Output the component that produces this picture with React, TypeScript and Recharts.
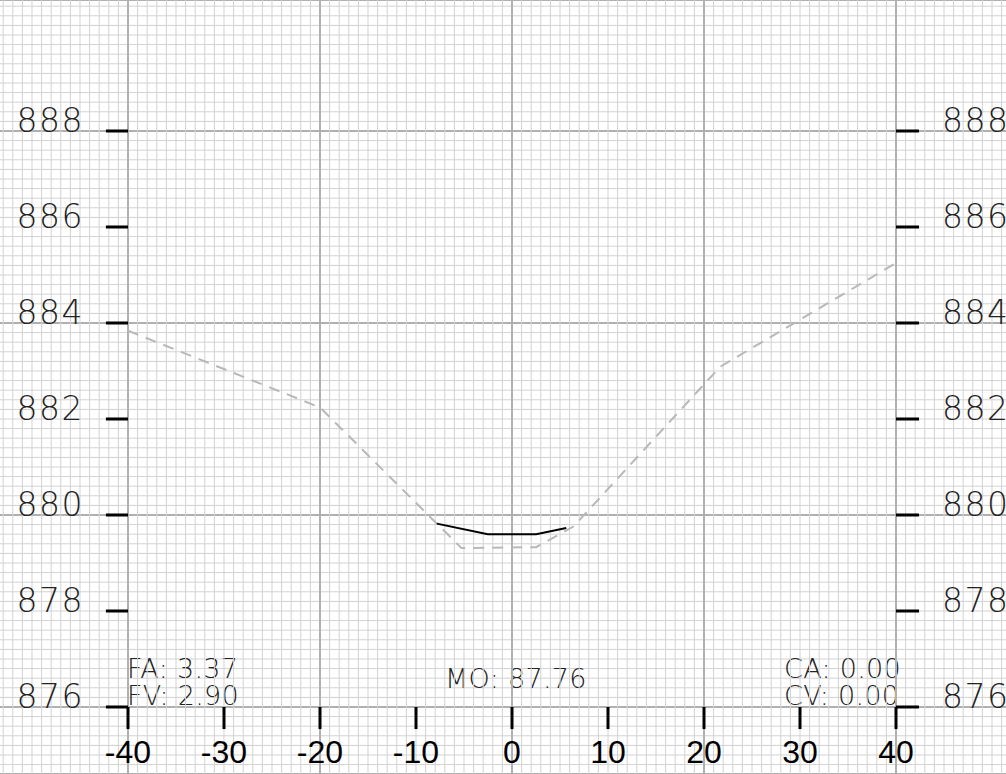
import { LineChart, Line, XAxis, YAxis, CartesianGrid, ReferenceLine } from 'recharts';

// existing ground (dashed) and design section (solid)
const groundX = [-40, -20, -5.26, 2.52, 6.4, 21.7, 40];
const groundY = [883.84, 882.24, 879.31, 879.33, 879.76, 883.09, 885.25];
const designX = [-7.83, -2.52, 2.52, 5.65];
const designY = [879.82, 879.6, 879.6, 879.73];

const xTicks = [-40, -30, -20, -10, 0, 10, 20, 30, 40];
const yTicks = [876, 878, 880, 882, 884, 886, 888];
const majorX = [-40, -20, 0, 20, 40];
const majorY = [876, 880, 884, 888];

const notesLeft = ['FA: 3.37', 'FV: 2.90'];
const noteMid = 'MO: 87.76';
const notesRight = ['CA: 0.00', 'CV: 0.00'];

const X_DOMAIN: [number, number] = [-53.3333, 51.4583];
const Y_DOMAIN: [number, number] = [874.604, 890.729];

const minorX = Array.from({ length: 105 }, (_, i) => -53 + i);
const minorY = Array.from({ length: 81 }, (_, i) => Math.round((874.6 + i * 0.2) * 10) / 10);

const ground = groundX.map((x, i) => ({ x, y: groundY[i] }));
const design = designX.map((x, i) => ({ x, y: designY[i] }));

const thin = { fontFamily: "'DejaVu Sans', sans-serif", fontWeight: 200, fill: '#222' };

const LeftLabel = (props: any) => {
  const { viewBox, text } = props;
  return (
    <text x={viewBox.x - 22} y={viewBox.y + 1} textAnchor="end" fontSize={33} letterSpacing={1.5} {...thin}>
      {text}
    </text>
  );
};

const RightLabel = (props: any) => {
  const { viewBox, text } = props;
  return (
    <text x={viewBox.x + viewBox.width + 23} y={viewBox.y + 1} textAnchor="start" fontSize={33} letterSpacing={1.5} {...thin}>
      {text}
    </text>
  );
};

const BottomLabel = (props: any) => {
  const { viewBox, text } = props;
  return (
    <text x={viewBox.x} y={viewBox.y + viewBox.height + 34} textAnchor="middle" fontSize={32}
      fontFamily="'Liberation Sans', Arial, sans-serif" fill="#000">
      {text}
    </text>
  );
};

const Notes = () => (
  <g fontSize={27} letterSpacing={0.3} {...thin}>
    <text x={127} y={678}>{notesLeft[0]}</text>
    <text x={127} y={705}>{notesLeft[1]}</text>
    <text x={445} y={688}>{noteMid}</text>
    <text x={784} y={678}>{notesRight[0]}</text>
    <text x={784} y={705}>{notesRight[1]}</text>
  </g>
);

export default function App() {
  return (
    <div style={{ position: 'absolute', left: 0, top: 0, background: '#fff' }}>
      <LineChart width={1006} height={774} margin={{ top: 0, right: 0, bottom: 0, left: 0 }}>
        <YAxis yAxisId="minor" type="number" domain={Y_DOMAIN} ticks={minorY} interval={0} allowDataOverflow hide />
        <YAxis yAxisId="major" type="number" domain={Y_DOMAIN} ticks={majorY} interval={0} allowDataOverflow hide />
        <XAxis dataKey="x" type="number" domain={X_DOMAIN} allowDataOverflow hide />
        <YAxis type="number" domain={Y_DOMAIN} allowDataOverflow hide />
        <CartesianGrid yAxisId="minor" vertical={false} stroke="#d2d2d2" strokeWidth={1} />
        {minorX.map((v) => (
          <ReferenceLine key={`mx${v}`} x={v} stroke="#d2d2d2" strokeWidth={1} />
        ))}
        <CartesianGrid yAxisId="major" vertical={false} stroke="#b0b0b0" strokeWidth={2} />
        {majorX.map((v) => (
          <ReferenceLine key={`Mx${v}`} x={v} stroke="#b0b0b0" strokeWidth={2} />
        ))}

        <Line data={ground} dataKey="y" stroke="#b8b8b8" strokeWidth={2} strokeDasharray="11 8"
          dot={false} activeDot={false} isAnimationActive={false} />
        <Line data={design} dataKey="y" stroke="#000" strokeWidth={2} dot={false} activeDot={false}
          isAnimationActive={false} />

        {yTicks.map((v) => (
          <ReferenceLine key={`l${v}`} segment={[{ x: -42.3, y: v }, { x: -40, y: v }]}
            stroke="#000" strokeWidth={3} label={<LeftLabel text={String(v)} />} />
        ))}
        {yTicks.map((v) => (
          <ReferenceLine key={`r${v}`} segment={[{ x: 40, y: v }, { x: 42.4, y: v }]}
            stroke="#000" strokeWidth={3} label={<RightLabel text={String(v)} />} />
        ))}
        {xTicks.map((v) => (
          <ReferenceLine key={`b${v}`} segment={[{ x: v, y: 876 }, { x: v, y: 875.54 }]}
            stroke="#000" strokeWidth={3} label={<BottomLabel text={String(v)} />} />
        ))}
        <Notes />
      </LineChart>
    </div>
  );
}
